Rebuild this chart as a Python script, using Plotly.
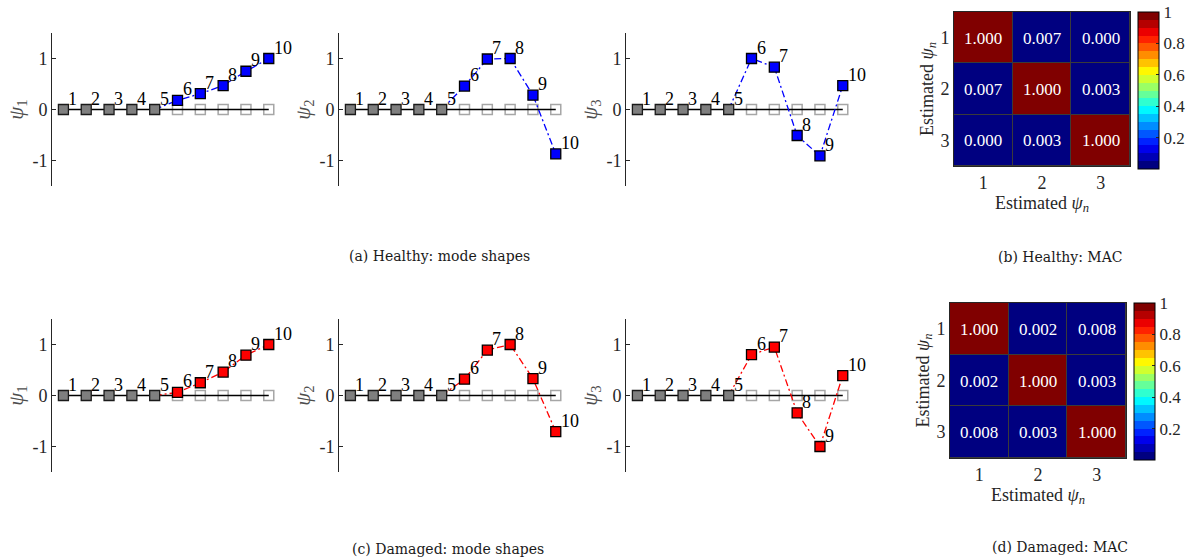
import plotly.graph_objects as go

# ---------------- data ----------------
nodes = [1, 2, 3, 4, 5, 6, 7, 8, 9, 10]
fixed_nodes = [1, 2, 3, 4, 5]
free_nodes = [6, 7, 8, 9, 10]
node_labels = ["1", "2", "3", "4", "5", "6", "7", "8", "9", "10"]

healthy_psi1 = [0, 0, 0, 0, 0, 0.18, 0.31, 0.47, 0.75, 1.00]
healthy_psi2 = [0, 0, 0, 0, 0, 0.46, 0.99, 1.00, 0.28, -0.87]
healthy_psi3 = [0, 0, 0, 0, 0, 1.00, 0.83, -0.51, -0.91, 0.47]

damaged_psi1 = [0, 0, 0, 0, 0, 0.06, 0.25, 0.46, 0.79, 1.00]
damaged_psi2 = [0, 0, 0, 0, 0, 0.32, 0.89, 1.00, 0.33, -0.71]
damaged_psi3 = [0, 0, 0, 0, 0, 0.80, 0.95, -0.34, -1.00, 0.39]

mac_labels = [1, 2, 3]
mac_healthy = [[1.000, 0.007, 0.000],
               [0.007, 1.000, 0.003],
               [0.000, 0.003, 1.000]]
mac_damaged = [[1.000, 0.002, 0.008],
               [0.002, 1.000, 0.003],
               [0.008, 0.003, 1.000]]

ytick_vals = [-1, 0, 1]
ytick_text = ["-1", "0", "1"]
cbar_vals = [0.2, 0.4, 0.6, 0.8, 1.0]
cbar_text = ["0.2", "0.4", "0.6", "0.8", "1"]

captions = ["(a) Healthy: mode shapes", "(b) Healthy: MAC",
            "(c) Damaged: mode shapes", "(d) Damaged: MAC"]

# ---------------- page geometry ----------------
W, H = 1189, 559
SERIF = "Liberation Serif"
CAPTION_FONT = "DejaVu Serif"
AXC = "#262626"


def fx(px):
    return px / W


def fy(py):
    return 1 - py / H


def jet_rgb(t):
    clip = lambda v: max(0.0, min(1.0, v))
    return (clip(1.5 - abs(4 * t - 3)), clip(1.5 - abs(4 * t - 2)), clip(1.5 - abs(4 * t - 1)))


def banded_jet(m):
    """Jet colormap quantised into m flat bands."""
    scale = []
    for i in range(m):
        c = jet_rgb(i / (m - 1))
        s = "rgb(%d,%d,%d)" % tuple(round(v * 255) for v in c)
        scale.append([i / m, s])
        scale.append([(i + 1) / m, s])
    return scale


JET20 = banded_jet(20)

fig = go.Figure()

mode_rows = [
    (33, 186, [healthy_psi1, healthy_psi2, healthy_psi3], "#0000ff"),
    (319, 472, [damaged_psi1, damaged_psi2, damaged_psi3], "#ff0000"),
]
col_left = [52, 339, 626]
col_width = 251

ax = 0
for top, bot, modes, colr in mode_rows:
    for j, psi in enumerate(modes):
        ax += 1
        xa = "x" if ax == 1 else "x%d" % ax
        ya = "y" if ax == 1 else "y%d" % ax
        kw = dict(xaxis=xa, yaxis=ya, showlegend=False, hoverinfo="skip")

        # undeformed positions
        fig.add_trace(go.Scatter(x=free_nodes, y=[0] * len(free_nodes), mode="markers",
                                 marker=dict(symbol="square-open", size=10, color="#a6a6a6",
                                             line=dict(width=1.5, color="#a6a6a6")), **kw))
        fig.add_trace(go.Scatter(x=nodes, y=[0] * len(nodes), mode="lines",
                                 line=dict(color="black", width=1.5), **kw))
        # mode shape line (from last fixed node onwards)
        fig.add_trace(go.Scatter(x=nodes[4:], y=psi[4:], mode="lines",
                                 line=dict(color=colr, width=1.3, dash="7px,3px,2px,3px"), **kw))
        # fixed nodes
        fig.add_trace(go.Scatter(x=fixed_nodes, y=psi[:5], mode="markers",
                                 marker=dict(symbol="square", size=10, color="#7f7f7f",
                                             line=dict(width=1.3, color="#1a1a1a")), **kw))
        # moving nodes
        fig.add_trace(go.Scatter(x=free_nodes, y=psi[5:], mode="markers",
                                 marker=dict(symbol="square", size=10, color=colr,
                                             line=dict(width=1.3, color="black")), **kw))
        # node numbers, up and to the right of each node
        for nx, ny, lab in zip(nodes, psi, node_labels):
            fig.add_annotation(x=nx, y=ny, xref=xa, yref=ya, text=lab, showarrow=False,
                               xanchor="left", yanchor="bottom", xshift=3, yshift=-1,
                               font=dict(family=SERIF, size=18, color="black"))

        x0 = col_left[j]
        fig.layout["xaxis" if ax == 1 else "xaxis%d" % ax] = dict(
            domain=[fx(x0), fx(x0 + col_width)], anchor=ya, range=[0.5, 11.5],
            visible=False, fixedrange=True, automargin=False)
        fig.layout["yaxis" if ax == 1 else "yaxis%d" % ax] = dict(
            domain=[fy(bot), fy(top)], anchor=xa, range=[-1.5, 1.5],
            showline=True, linecolor=AXC, linewidth=1, ticks="inside", ticklen=4,
            tickcolor=AXC, tickvals=ytick_vals, ticktext=ytick_text,
            showgrid=False, zeroline=False, automargin=False,
            tickfont=dict(family=SERIF, size=18, color=AXC),
            title=dict(text="<i>ψ</i><sub>%d</sub>" % (j + 1), standoff=3,
                       font=dict(family=SERIF, size=21, color="#4d4d4d")))

# ---------------- MAC matrices ----------------
mac_boxes = [
    (954, 1130, 12, 166, mac_healthy, 1138, 12, 169),
    (950, 1126, 303, 458, mac_damaged, 1134, 303, 460),
]
for (l, r, t, b, mac, cbx, cbt, cbb) in mac_boxes:
    ax += 1
    xa, ya = "x%d" % ax, "y%d" % ax
    fig.add_shape(type="rect", xref="%s domain" % xa, yref="%s domain" % ya,
                  x0=0, x1=1, y0=0, y1=1, fillcolor="#3a3a3a", line=dict(width=0),
                  layer="below")
    fig.add_trace(go.Heatmap(
        z=mac, x=mac_labels, y=mac_labels, xaxis=xa, yaxis=ya,
        zmin=0, zmax=1, colorscale=JET20, xgap=1, ygap=1,
        texttemplate="%{z:.3f}", textfont=dict(family=SERIF, size=17, color="white"),
        hoverinfo="skip",
        colorbar=dict(x=fx(cbx), xanchor="left", y=fy(cbt), yanchor="top",
                      len=(cbb - cbt) / H, lenmode="fraction", thickness=21,
                      thicknessmode="pixels", xpad=0, ypad=0,
                      outlinecolor="black", outlinewidth=1,
                      tickvals=cbar_vals, ticktext=cbar_text, ticks="inside",
                      ticklen=3, tickcolor=AXC,
                      tickfont=dict(family=SERIF, size=17, color=AXC)),
    ))
    fig.layout["xaxis%d" % ax] = dict(
        domain=[fx(l), fx(r)], anchor=ya, range=[0.5, 3.5], tickvals=mac_labels,
        showline=True, mirror=True, linecolor=AXC, linewidth=1, ticks="",
        showgrid=False, zeroline=False, fixedrange=True, automargin=False,
        tickfont=dict(family=SERIF, size=18, color=AXC),
        title=dict(text="Estimated <i>ψ</i><sub><i>n</i></sub>", standoff=4,
                   font=dict(family=SERIF, size=18, color=AXC)))
    fig.layout["yaxis%d" % ax] = dict(
        domain=[fy(b), fy(t)], anchor=xa, range=[3.5, 0.5], tickvals=mac_labels,
        showline=True, mirror=True, linecolor=AXC, linewidth=1, ticks="",
        showgrid=False, zeroline=False, fixedrange=True, automargin=False,
        tickfont=dict(family=SERIF, size=18, color=AXC),
        title=dict(text="Estimated <i>ψ</i><sub><i>n</i></sub>", standoff=2,
                   font=dict(family=SERIF, size=18, color=AXC)))

# ---------------- captions ----------------
cap_pos = [(440, 256), (1060, 257), (448, 549), (1060, 547)]
for txt, (cx, cy) in zip(captions, cap_pos):
    fig.add_annotation(text=txt, x=fx(cx), y=fy(cy), xref="paper", yref="paper",
                       xanchor="center", yanchor="middle", showarrow=False,
                       font=dict(family=CAPTION_FONT, size=14, color="#1a1a1a"))

fig.update_layout(width=W, height=H, margin=dict(l=0, r=0, t=0, b=0, pad=0),
                  paper_bgcolor="white", plot_bgcolor="white", showlegend=False)

fig.write_html("out.html")
